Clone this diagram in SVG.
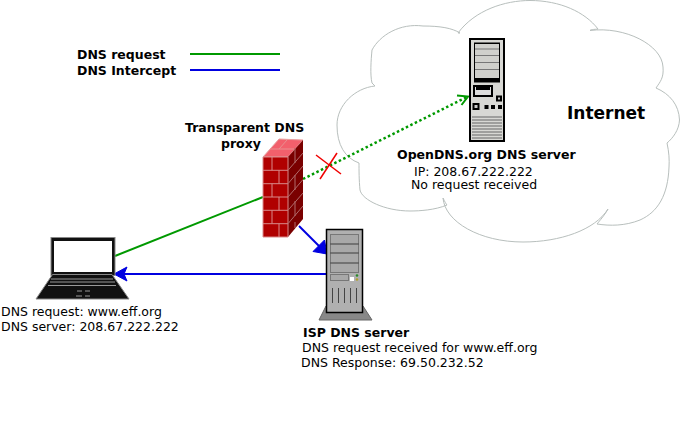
<svg xmlns="http://www.w3.org/2000/svg" width="681" height="421" viewBox="0 0 681 421">
<style>
text{font-family:"DejaVu Sans",sans-serif;font-size:12.5px;fill:#000}
.b{font-weight:bold}
.cloud{fill:#fff;stroke:#b8bfbd;stroke-width:1}
.brick{stroke:#d98a8a;stroke-width:1;fill:none}
.sbrick{stroke:#b06a6a;stroke-width:1;fill:none}
</style>
<defs>
<marker id="blue" markerWidth="6" markerHeight="6" refX="5" refY="3" orient="auto" markerUnits="strokeWidth"><path d="M0 0L6 3L0 6L1.2 3Z" fill="#0000e0"/></marker>
</defs>
<rect width="681" height="421" fill="#fff"/>
<g id="internet-cloud">
<path class="cloud" d="M458 33C475 10 505 .5 530 .5C560 .5 585 12 598 29C590 30 592 29 590 30.5C625 26 662 45 663 67C664 78 660 82 656 88C670 94 679 105 679.500 120C679 130 673 138 667 143C669 152 669.500 160 669 167C668 195 658 212 640 220C625 226 610 226 597 224C602 218 606 213 608 209C595 230 560 242 523 242C480 242 445 222 443 198C445 202 446 204 447 205C435 210 420 211 410 211C385 211 362 200 360 190C359 180 359 170 359 163C345 158 337 145 337 125C337 105 355 88 375 86L372 83C370 75 371 60 372 50C380 35 400 23 423 26C440 26 452 28 460 33Z"/>
<text x="567" y="119" class="b" style="font-size:17px">Internet</text>
</g>
<g id="legend">
<text x="77" y="59" class="b">DNS request</text>
<text x="77" y="75" class="b">DNS Intercept</text>
<line x1="190" y1="54" x2="280" y2="54" stroke="#009900" stroke-width="1.800"/>
<line x1="190" y1="70" x2="280" y2="70" stroke="#0000e0" stroke-width="1.800"/>
</g>
<g id="connectors" fill="none">
<line x1="115" y1="256" x2="263" y2="197" stroke="#009900" stroke-width="2"/>
<line x1="303" y1="179" x2="467" y2="97" stroke="#009900" stroke-width="2.500" stroke-dasharray="2.500 2.500"/>
<path d="M457 95.500L468 96.500L461.500 105" stroke="#009900" stroke-width="2"/>
<line x1="299" y1="226" x2="326" y2="253" stroke="#0000e0" stroke-width="2"/>
<path d="M313 251.500L327 254L324.500 240Z" fill="#0000e0" stroke="#0000e0" stroke-width="1"/>
<line x1="122" y1="274" x2="326" y2="274" stroke="#0000e0" stroke-width="2"/>
<path d="M114 274L127 267L124 274L127 281Z" fill="#0000e0" stroke="#0000e0" stroke-width="1"/>
<g stroke="#f00000" stroke-width="1.500">
<line x1="316" y1="155" x2="341" y2="174"/>
<line x1="320" y1="179" x2="337" y2="153"/>
</g>
</g>
<g id="opendns-server">
<rect x="470" y="39" width="34" height="102" fill="#d8d8d4" stroke="#000" stroke-width="2"/>
<rect x="474" y="42.500" width="26" height="40" fill="#000"/>
<rect x="475" y="44" width="24" height="34" fill="#d0d0cc"/>
<g stroke="#777" stroke-width="1"><line x1="475" y1="49" x2="499" y2="49"/><line x1="475" y1="55.500" x2="499" y2="55.500"/><line x1="475" y1="62.500" x2="499" y2="62.500"/><line x1="475" y1="69.500" x2="499" y2="69.500"/></g>
<rect x="473" y="85" width="20" height="12" fill="#000"/>
<rect x="475" y="87" width="16" height="8" fill="#ddd"/>
<rect x="476" y="87" width="14" height="3" fill="#000"/>
<rect x="496" y="95.500" width="6" height="6" fill="#000"/><rect x="498" y="97.500" width="2" height="2" fill="#ccc"/>
<rect x="472.500" y="103" width="7" height="7" fill="#000"/><rect x="474.500" y="105" width="3" height="3" fill="#ccc"/>
<rect x="484.500" y="105" width="4" height="4" fill="#000"/><rect x="491" y="105" width="4" height="4" fill="#000"/><rect x="498" y="105" width="4" height="4" fill="#000"/>
<g stroke="#666" stroke-width="1"><line x1="472" y1="117" x2="502" y2="117"/><line x1="472" y1="120" x2="502" y2="120"/><line x1="472" y1="123" x2="502" y2="123"/><line x1="472" y1="126" x2="502" y2="126"/><line x1="472" y1="129" x2="502" y2="129"/><line x1="472" y1="132" x2="502" y2="132"/><line x1="472" y1="135" x2="502" y2="135"/><line x1="472" y1="138" x2="502" y2="138"/></g>
<text x="397" y="159" class="b">OpenDNS.org DNS server</text>
<text x="414" y="176">IP: 208.67.222.222</text>
<text x="411" y="189">No request received</text>
</g>
<g id="firewall">
<path d="M263 157L279 139L303 140L288 157Z" fill="#f2606c" stroke="#e8a0a0" stroke-width="1"/>
<path d="M270 149H294M279 149L287 140" stroke="#e89090" fill="none"/>
<rect x="263" y="157" width="25" height="80" fill="#b00000"/>
<path d="M288 157L303 140V219L288 237Z" fill="#7a0000"/>
<path class="brick" d="M263 157H288V237H263ZM263 170.300H288M263 183.700H288M263 197H288M263 210.300H288M263 223.700H288M272 157V170.300M279 170.300V183.700M272 183.700V197M279 197V210.300M272 210.300V223.700M279 223.700V237"/>
<path class="sbrick" d="M288 170.300L303 153M288 183.700L303 166M288 197L303 179.500M288 210.300L303 193M288 223.700L303 206M295 148V163M295 175V190M295 201V216M295 228V222"/>
<text x="185" y="132" class="b">Transparent DNS</text>
<text x="221" y="148" class="b">proxy</text>
</g>
<g id="laptop">
<rect x="51" y="237.500" width="64" height="38" fill="#111" stroke="#888" stroke-width="1"/>
<rect x="54" y="241" width="58" height="31" fill="#fff"/>
<path d="M52.500 274.500H112L129 299H36Z" fill="#111" stroke="#888" stroke-width="1"/>
<g stroke="#999" stroke-width="1" fill="none"><path d="M51 279H113M50 282H115M48 285.500H116"/><path d="M77 291H82M85 291H90M76 296H82M85 296H90"/></g>
<text x="1" y="316">DNS request: www.eff.org</text>
<text x="1" y="331">DNS server: 208.67.222.222</text>
</g>
<g id="isp-server">
<path d="M319 320L326 306H363L372 320Z" fill="#888" stroke="#666" stroke-width="1"/>
<rect x="326.500" y="229.500" width="36" height="83" fill="#b0b0b0" stroke="#000" stroke-width="1.500"/>
<rect x="330.500" y="234.500" width="28" height="38" fill="#a8a8a8" stroke="#777" stroke-width="1"/>
<g stroke="#555" stroke-width="1.300"><line x1="330" y1="244" x2="359" y2="244"/><line x1="330" y1="253" x2="359" y2="253"/><line x1="330" y1="263" x2="359" y2="263"/></g>
<rect x="330.500" y="274.500" width="18" height="6" fill="#a8a8a8" stroke="#777" stroke-width="1"/>
<rect x="350" y="277" width="4" height="4" fill="#fff"/>
<circle cx="357" cy="275.500" r="1.300" fill="#2a8a2a"/><circle cx="357" cy="279.500" r="1.300" fill="#b0a030"/>
<g stroke="#444" stroke-width="1"><line x1="332.500" y1="288" x2="332.500" y2="303"/><line x1="338.500" y1="288" x2="338.500" y2="303"/><line x1="344.500" y1="288" x2="344.500" y2="303"/><line x1="350.500" y1="288" x2="350.500" y2="303"/><line x1="356.500" y1="288" x2="356.500" y2="303"/></g>
<text x="303" y="337" class="b">ISP DNS server</text>
<text x="302" y="352">DNS request received for www.eff.org</text>
<text x="301" y="367">DNS Response: 69.50.232.52</text>
</g>
</svg>
